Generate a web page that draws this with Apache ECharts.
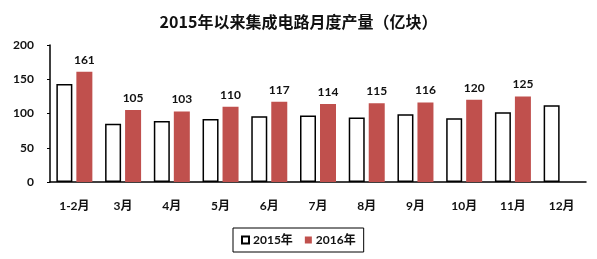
<!DOCTYPE html>
<html>
<head>
<meta charset="utf-8">
<script src="https://cdn.jsdelivr.net/npm/echarts@6/dist/echarts.min.js"></script>
<style>html,body{margin:0;padding:0;background:#fff;}#c{width:597px;height:259px;}</style>
</head>
<body>
<div id="c"></div>
<script>
const categories = ['1-2月','3月','4月','5月','6月','7月','8月','9月','10月','11月','12月'];
const values2015 = [143, 85, 89, 92, 96, 97, 94, 99, 93, 102, 112];
const values2016 = [161, 105, 103, 110, 117, 114, 115, 116, 120, 125, null];
const yTicks = [0, 50, 100, 150, 200];

const FONT = "Lato, 'Noto Sans CJK SC', sans-serif";
const chart = echarts.init(document.getElementById('c'), null, {renderer: 'canvas'});
chart.setOption({
  animation: false,
  backgroundColor: '#fff',
  title: {
    text: '2015年以来集成电路月度产量（亿块）',
    left: 'center', top: 9,
    textStyle: {fontFamily: "'Noto Sans CJK SC', sans-serif", fontWeight: 'bold', fontSize: 16, color: '#111'}
  },
  legend: {
    data: ['2015年', '2016年'],
    left: 233, top: 228,
    itemWidth: 7, itemHeight: 7, itemGap: 12,
    icon: 'rect',
    padding: [6, 8, 6, 8],
    borderColor: '#000', borderWidth: 1,
    textStyle: {fontFamily: FONT, fontWeight: 'bold', fontSize: 12, color: '#111', padding: [0, 0, 0, -1]}
  },
  grid: {left: 50, right: 11, top: 45, bottom: 77},
  xAxis: {
    type: 'category',
    data: categories,
    axisLine: {lineStyle: {color: '#000', width: 1.5}},
    axisTick: {show: false},
    axisLabel: {fontFamily: FONT, fontWeight: 'bold', fontSize: 12, color: '#111', margin: 18}
  },
  yAxis: {
    type: 'value', min: yTicks[0], max: yTicks[yTicks.length - 1], interval: 50,
    axisLine: {show: true, lineStyle: {color: '#000', width: 1.5}},
    axisTick: {show: true, length: 3, lineStyle: {color: '#000'}},
    splitLine: {show: false},
    axisLabel: {fontFamily: FONT, fontWeight: 'bold', fontSize: 12, color: '#111', margin: 16}
  },
  series: [
    {
      name: '2015年', type: 'bar', data: values2015,
      barWidth: 16, barGap: '25%',
      itemStyle: {color: '#fff', borderColor: '#000', borderWidth: 1.5}
    },
    {
      name: '2016年', type: 'bar', data: values2016,
      barWidth: 16,
      itemStyle: {color: '#C0504D'},
      label: {show: true, position: 'top', distance: 6, fontFamily: FONT, fontWeight: 'bold', fontSize: 12, color: '#111'}
    }
  ]
});
</script>
</body>
</html>
